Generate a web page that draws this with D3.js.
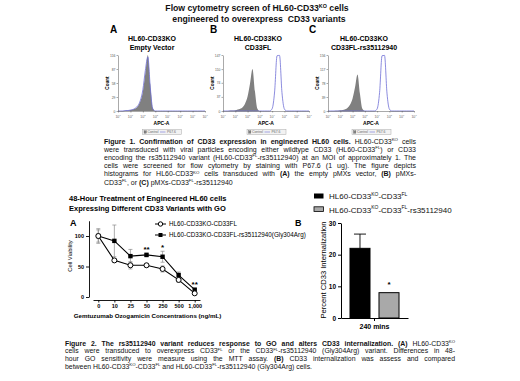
<!DOCTYPE html>
<html>
<head>
<meta charset="utf-8">
<script src="https://cdn.jsdelivr.net/npm/d3@7"></script>
<style>
  body { margin: 0; background: #fff; }
  svg { display: block; font-family: "Liberation Sans", Arial, sans-serif; }
  text { white-space: pre; }
</style>
</head>
<body>
<script>
// ---- data ----
// histogram bins, log10(APC-A)
var binLog = [0, 0.2, 0.4, 0.6, 0.8, 1, 1.2, 1.4, 1.6, 1.8, 2, 2.2, 2.4, 2.6, 2.8, 3, 3.2, 3.4,
              3.6, 3.8, 4, 4.2, 4.4, 4.6, 4.8, 5, 5.2, 5.4, 5.6, 5.8, 6, 6.2, 6.4, 6.6, 6.8, 7];
var ctrlA = [0, 0, 0, 1, 1, 2, 3, 5, 10, 20, 40, 78, 116, 55, 6, 0, 0, 0,
             0, 0, 0, 0, 0, 0, 0, 0, 0, 0, 0, 0, 0, 0, 0, 0, 0, 0];
var p67A  = [0, 0, 0, 1, 1, 2, 3, 6, 11, 22, 44, 84, 112, 48, 4, 0, 0, 0,
             0, 0, 0, 0, 0, 0, 0, 0, 0, 0, 0, 0, 0, 0, 0, 0, 0, 0];
var ctrlB = [0, 0, 0, 1, 1, 2, 4, 6, 10, 20, 38, 72, 110, 52, 6, 0, 0, 0,
             0, 0, 0, 0, 0, 0, 0, 0, 0, 0, 0, 0, 0, 0, 0, 0, 0, 0];
var p67B  = [0, 0, 0, 0, 0, 0, 0, 0, 0, 0, 0, 0, 0, 0, 0, 0, 0, 0,
             0, 0, 6, 50, 145, 146, 48, 5, 0, 0, 0, 0, 0, 0, 0, 0, 0, 0];
var ctrlC = [0, 0, 0, 1, 1, 2, 3, 5, 9, 18, 35, 66, 102, 48, 6, 0, 0, 0,
             0, 0, 0, 0, 0, 0, 0, 0, 0, 0, 0, 0, 0, 0, 0, 0, 0, 0];
var p67C  = [0, 0, 0, 0, 0, 0, 0, 0, 0, 0, 0, 0, 0, 0, 0, 0, 0, 0,
             0, 0, 6, 52, 154, 155, 50, 5, 0, 0, 0, 0, 0, 0, 0, 0, 0, 0];
var countTicksA = [0, 29, 58, 87, 116];
var countTicksB = [0, 37, 74, 110, 147];
var countTicksC = [0, 39, 78, 117, 156];
var apcExponents = [0, 1, 2, 3, 4, 5, 6, 7];
var histLetters = ["A", "B", "C"];
var histTitles = [["HL60-CD33KO", "Empty Vector"], ["HL60-CD33KO", "CD33FL"], ["HL60-CD33KO", "CD33FL-rs35112940"]];

// figure 2A: cell viability after 48 h of GO
var goDoses = ["0", "10", "25", "50", "250", "500", "1,000"];
var viabFL = [100, 60, 52, 52, 46, 28, 6];
var viabFLsd = [10, 3, 6, 3, 5, 4, 2];
var viabRS = [100, 92, 67, 69, 66, 36, 12];
var viabRSsd = [12, 26, 11, 3, 9, 5, 2];
var viabStars = ["", "", "", "**", "*", "", "**"];
var viabTicks = [0, 50, 100];

// figure 2B: CD33 internalization at 240 mins
var internGroup = ["240 mins"];
var internLines = ["FL", "RS"];
var internValues = [22, 8];
var internErr = [4.5, 0];
var internStars = ["", "*"];
var internTicks = [0, 10, 20, 30];

var fig1Caption = [
  "**Figure 1. Confirmation of CD33 expression in engineered HL60 cells.** HL60-CD33^{KO} cells",
  "were transduced with viral particles encoding either wildtype CD33 (HL60-CD33^{FL}) or CD33",
  "encoding the rs35112940 variant (HL60-CD33^{FL}-rs35112940) at an MOI of approximately 1. The",
  "cells were screened for flow cytometry by staining with P67.6 (1 ug). The figure depicts",
  "histograms for HL60-CD33^{KO} cells transduced with **(A)** the empty pMXs vector, **(B)** pMXs-",
  "CD33^{FL}, or **(C)** pMXs-CD33^{FL}-rs35112940"
];
var fig2Caption = [
  "**Figure 2. The rs35112940 variant reduces response to GO and alters CD33 internalization. (A)** HL60-CD33^{KO}",
  "cells were transduced to overexpress CD33^{FL} or the CD33^{FL}-rs35112940 (Gly304Arg) variant. Differences in 48-",
  "hour GO sensitivity were measure using the MTT assay. **(B)** CD33 internalization was assess and compared",
  "between HL60-CD33^{KO}-CD33^{FL} and HL60-CD33^{FL}-rs35112940 (Gly304Arg) cells."
];

// text with **bold** and ^{sup} runs, optionally justified to a width
function rich(g, x, y, str, o) {
  o = o || {};
  var fs = o.size || 7;
  var t = g.append("text").attr("x", x).attr("y", y)
    .attr("font-size", fs)
    .attr("font-weight", o.weight || "normal")
    .attr("text-anchor", o.anchor || "start")
    .attr("fill", o.fill || "#111");
  var parts = str.split(/(\*\*[^*]+\*\*|\^\{[^}]+\})/).filter(function(s) { return s.length; });
  var up = false;
  parts.forEach(function(p) {
    var ts = t.append("tspan");
    if (p.indexOf("^{") === 0) {
      ts.text(p.slice(2, -1)).attr("font-size", fs * 0.62);
      if (!up) ts.attr("dy", -fs * 0.38);
      up = true;
    } else {
      var bold = p.indexOf("**") === 0;
      ts.text(bold ? p.slice(2, -2) : p);
      if (bold) ts.attr("font-weight", "bold");
      if (up) { ts.attr("dy", fs * 0.38); up = false; }
    }
  });
  if (o.width) {
    var n = (t.text().match(/ /g) || []).length;
    var L = t.node().getComputedTextLength();
    if (n) t.style("word-spacing", ((o.width - L) / n) + "px");
  }
  return t;
}

function styleAxis(a, size, weight, color) {
  a.attr("font-family", null).attr("font-size", null);
  a.selectAll("path,line").attr("stroke", color || "#000");
  a.selectAll("text").attr("font-size", size).attr("font-weight", weight || "normal").attr("fill", color || "#000");
}

function histPanel(svg, p) {
  var g = svg.append("g");
  var x = d3.scaleLinear().domain([0, 7]).range([p.x0, p.x1]);
  var y = d3.scaleLinear().domain([0, p.ticks[p.ticks.length - 1]]).range([111, 55]);
  var area = d3.area().x(function(d, i) { return x(binLog[i]); })
    .y0(y(0)).y1(function(d) { return y(d); }).curve(d3.curveMonotoneX);
  var line = d3.line().x(function(d, i) { return x(binLog[i]); })
    .y(function(d) { return y(d); }).curve(d3.curveMonotoneX);
  g.append("path").datum(p.ctrl).attr("d", area).attr("fill", "#808080");
  g.append("path").datum(p.stain).attr("d", line).attr("fill", "none")
    .attr("stroke", "#6f6fd6").attr("stroke-width", 0.8);

  g.append("g").attr("transform", "translate(" + p.x0 + ",0)")
    .call(d3.axisLeft(y).tickValues(p.ticks).tickSize(1.5).tickSizeOuter(0).tickPadding(1))
    .call(function(a) { styleAxis(a, 3.4, "normal", "#555"); a.selectAll("path,line").attr("stroke-width", 0.5); });
  g.append("g").attr("transform", "translate(0,111)")
    .call(d3.axisBottom(x).tickValues(apcExponents).tickSize(1.5).tickSizeOuter(0).tickFormat(""))
    .call(function(a) { styleAxis(a, 3.4, "normal", "#555"); a.selectAll("path,line").attr("stroke-width", 0.5); });
  apcExponents.forEach(function(e) {
    rich(g, x(e), 117.5, "10^{" + e + "}", { size: 3.6, anchor: "middle", fill: "#666" });
  });
  var mid = (p.x0 + p.x1) / 2;
  g.append("text").attr("x", mid).attr("y", 124.5).attr("text-anchor", "middle")
    .attr("font-size", 5).attr("font-weight", "bold").text("APC-A");
  g.append("text").attr("transform", "translate(" + (p.x0 - 9.5) + ",83) rotate(-90)")
    .attr("text-anchor", "middle").attr("font-size", 4.6).attr("font-weight", "bold").text("Count");

  // little FlowJo legend box
  var lx = mid - 19;
  g.append("rect").attr("x", lx).attr("y", 129.5).attr("width", 39).attr("height", 5)
    .attr("fill", "#f2f2f2").attr("stroke", "#aaa").attr("stroke-width", 0.5);
  g.append("rect").attr("x", lx + 1.5).attr("y", 130.8).attr("width", 2.4).attr("height", 2.4)
    .attr("fill", "#808080").attr("stroke", "#555").attr("stroke-width", 0.3);
  g.append("text").attr("x", lx + 5).attr("y", 133.3).attr("font-size", 3.4).attr("fill", "#666").text("Control");
  g.append("line").attr("x1", lx + 17.5).attr("x2", lx + 23).attr("y1", 132).attr("y2", 132)
    .attr("stroke", "#6f6fd6").attr("stroke-width", 0.6);
  g.append("text").attr("x", lx + 24.5).attr("y", 133.3).attr("font-size", 3.4).attr("fill", "#666").text("P67.6");

  g.append("text").attr("x", p.letterX).attr("y", 33).attr("font-size", 10).attr("font-weight", "bold").text(p.letter);
  g.append("text").attr("x", p.titleX).attr("y", 40.5).attr("text-anchor", "middle")
    .attr("font-size", 7).attr("font-weight", "bold").text(p.title[0]);
  g.append("text").attr("x", p.titleX).attr("y", 49.5).attr("text-anchor", "middle")
    .attr("font-size", 7).attr("font-weight", "bold").text(p.title[1]);
}

function draw() {
  var svg = d3.select("body").append("svg").attr("width", 520).attr("height", 381);

  // ---------- Figure 1 ----------
  rich(svg, 257, 11, "Flow cytometry screen of HL60-CD33^{KO} cells", { size: 8.7, weight: "bold", anchor: "middle" });
  rich(svg, 259, 22, "engineered to overexpress  CD33 variants", { size: 8.7, weight: "bold", anchor: "middle" });

  var panels = [
    { x0: 118, x1: 205, ctrl: ctrlA, stain: p67A, ticks: countTicksA, letterX: 110, titleX: 152 },
    { x0: 223, x1: 309, ctrl: ctrlB, stain: p67B, ticks: countTicksB, letterX: 210, titleX: 258 },
    { x0: 328, x1: 414, ctrl: ctrlC, stain: p67C, ticks: countTicksC, letterX: 309, titleX: 364 }
  ];
  panels.forEach(function(p, i) {
    p.letter = histLetters[i];
    p.title = histTitles[i];
    histPanel(svg, p);
  });

  fig1Caption.forEach(function(s, i) {
    var last = i === fig1Caption.length - 1;
    rich(svg, 104, 143.5 + i * 8.2, s, { size: 7, width: last ? null : 312 });
  });

  // ---------- Figure 2 ----------
  svg.append("text").attr("x", 69).attr("y", 201).attr("font-size", 7.5).attr("font-weight", "bold")
    .text("48-Hour Treatment of Engineered HL60 cells");
  svg.append("text").attr("x", 69).attr("y", 210.5).attr("font-size", 7.5).attr("font-weight", "bold")
    .text("Expressing Different CD33 Variants with GO");
  svg.append("text").attr("x", 70).attr("y", 226).attr("font-size", 9).attr("font-weight", "bold").text("A");
  svg.append("text").attr("x", 295).attr("y", 226).attr("font-size", 9).attr("font-weight", "bold").text("B");

  // right legend
  svg.append("rect").attr("x", 314).attr("y", 193.5).attr("width", 9.5).attr("height", 5).attr("fill", "#000");
  rich(svg, 329, 199, "HL60-CD33^{KO}-CD33^{FL}", { size: 8 });
  svg.append("rect").attr("x", 314).attr("y", 206.8).attr("width", 9.5).attr("height", 4.6)
    .attr("fill", "#a9a9a9").attr("stroke", "#000").attr("stroke-width", 0.8);
  rich(svg, 329, 212.5, "HL60-CD33^{KO}-CD33^{FL}-rs35112940", { size: 8 });

  // --- 2A line chart ---
  var xA = d3.scalePoint().domain(goDoses).range([93, 200]).padding(0.33);
  var yA = d3.scaleLinear().domain([0, 125]).range([297, 220.75]);
  var gA = svg.append("g");
  gA.append("g").attr("transform", "translate(89,0)")
    .call(d3.axisLeft(yA).tickValues(viabTicks).tickSize(3).tickSizeOuter(0).tickPadding(2))
    .call(function(a) { styleAxis(a, 5.5, "bold"); a.selectAll("path,line").attr("stroke-width", 0.9); });
  gA.append("g").attr("transform", "translate(0,300)")
    .call(d3.axisBottom(xA).tickSize(2.5).tickSizeOuter(0).tickPadding(2))
    .call(function(a) { styleAxis(a, 5.5, "bold"); a.selectAll("path,line").attr("stroke-width", 0.9); });
  gA.append("text").attr("transform", "translate(71.5,256) rotate(-90)").attr("text-anchor", "middle")
    .attr("font-size", 5.8).text("Cell Viability");
  gA.append("text").attr("x", 147.5).attr("y", 317.5).attr("text-anchor", "middle")
    .attr("font-size", 6.2).attr("font-weight", "bold").text("Gemtuzumab Ozogamicin Concentrations (ng/mL)");

  var series = [
    { v: viabRS, sd: viabRSsd, marker: "square" },
    { v: viabFL, sd: viabFLsd, marker: "circle" }
  ];
  series.forEach(function(s) {
    s.v.forEach(function(v, i) {
      var cx = xA(goDoses[i]);
      gA.append("line").attr("x1", cx).attr("x2", cx).attr("y1", yA(v - s.sd[i])).attr("y2", yA(v + s.sd[i]))
        .attr("stroke", "#8a8a8a").attr("stroke-width", 0.7);
      [v - s.sd[i], v + s.sd[i]].forEach(function(e) {
        gA.append("line").attr("x1", cx - 2).attr("x2", cx + 2).attr("y1", yA(e)).attr("y2", yA(e))
          .attr("stroke", "#8a8a8a").attr("stroke-width", 0.7);
      });
    });
  });
  var lineA = d3.line().x(function(d, i) { return xA(goDoses[i]); }).y(function(d) { return yA(d); });
  series.forEach(function(s) {
    gA.append("path").datum(s.v).attr("d", lineA).attr("fill", "none").attr("stroke", "#000").attr("stroke-width", 1.1);
  });
  gA.selectAll("rect.rs").data(viabRS).enter().append("rect").attr("class", "rs")
    .attr("x", function(d, i) { return xA(goDoses[i]) - 2.2; })
    .attr("y", function(d) { return yA(d) - 2.2; })
    .attr("width", 4.4).attr("height", 4.4).attr("fill", "#000");
  gA.selectAll("circle.fl").data(viabFL).enter().append("circle").attr("class", "fl")
    .attr("cx", function(d, i) { return xA(goDoses[i]); })
    .attr("cy", function(d) { return yA(d); })
    .attr("r", 2.5).attr("fill", "#fff").attr("stroke", "#000").attr("stroke-width", 1);
  viabStars.forEach(function(st, i) {
    if (!st) return;
    var top = Math.max(viabRS[i] + viabRSsd[i], viabFL[i] + viabFLsd[i]);
    gA.append("text").attr("x", xA(goDoses[i])).attr("y", yA(top) - 1.5).attr("text-anchor", "middle")
      .attr("font-size", 8).attr("font-weight", "bold").text(st);
  });

  // legend of 2A
  gA.append("line").attr("x1", 155).attr("x2", 166).attr("y1", 224).attr("y2", 224).attr("stroke", "#000").attr("stroke-width", 1);
  gA.append("circle").attr("cx", 160.5).attr("cy", 224).attr("r", 2.2).attr("fill", "#fff").attr("stroke", "#000").attr("stroke-width", 1);
  gA.append("text").attr("x", 169).attr("y", 226.2).attr("font-size", 6.3).text("HL60-CD33KO-CD33FL");
  gA.append("line").attr("x1", 155).attr("x2", 166).attr("y1", 235).attr("y2", 235).attr("stroke", "#000").attr("stroke-width", 1);
  gA.append("rect").attr("x", 158.5).attr("y", 233).attr("width", 4).attr("height", 4).attr("fill", "#000");
  gA.append("text").attr("x", 169).attr("y", 237.2).attr("font-size", 6.3).text("HL60-CD33KO-CD33FL-rs35112940(Gly304Arg)");

  // --- 2B bar chart ---
  var gB = svg.append("g");
  var x0B = d3.scaleBand().domain(internGroup).range([341, 408]);
  var x1B = d3.scaleBand().domain(internLines).range([341, 408]).paddingInner(0.31).paddingOuter(0.31);
  var yB = d3.scaleLinear().domain([0, 30]).range([318, 223]);
  internValues.forEach(function(v, i) {
    var bx = x1B(internLines[i]), bw = x1B.bandwidth();
    if (internErr[i]) {
      var cx = bx + bw / 2;
      gB.append("line").attr("x1", cx).attr("x2", cx).attr("y1", yB(v)).attr("y2", yB(v + internErr[i]))
        .attr("stroke", "#000").attr("stroke-width", 0.9);
      gB.append("line").attr("x1", cx - 6).attr("x2", cx + 6).attr("y1", yB(v + internErr[i])).attr("y2", yB(v + internErr[i]))
        .attr("stroke", "#000").attr("stroke-width", 0.9);
    }
    gB.append("rect").attr("x", bx).attr("y", yB(v)).attr("width", bw).attr("height", yB(0) - yB(v))
      .attr("fill", i === 0 ? "#000" : "#a9a9a9").attr("stroke", "#000").attr("stroke-width", 1);
    if (internStars[i]) {
      gB.append("text").attr("x", bx + bw / 2).attr("y", yB(v + internErr[i]) - 5.5).attr("text-anchor", "middle")
        .attr("font-size", 8).attr("font-weight", "bold").text(internStars[i]);
    }
  });
  gB.append("g").attr("transform", "translate(341,0)")
    .call(d3.axisLeft(yB).tickValues(internTicks).tickSize(3).tickSizeOuter(0).tickPadding(2))
    .call(function(a) { styleAxis(a, 6.5, "bold"); a.selectAll("path,line").attr("stroke-width", 1); });
  gB.append("g").attr("transform", "translate(0,318)")
    .call(d3.axisBottom(x0B).tickSize(3).tickSizeOuter(0).tickPadding(3))
    .call(function(a) { styleAxis(a, 7, "bold"); a.selectAll("path,line").attr("stroke-width", 1); });
  gB.append("text").attr("transform", "translate(325.5,270) rotate(-90)").attr("text-anchor", "middle")
    .attr("font-size", 7.6).text("Percent CD33 Internalization");

  fig2Caption.forEach(function(s, i) {
    var last = i === fig2Caption.length - 1;
    rich(svg, 65, 345.5 + i * 7.7, s, { size: 6.9, width: last ? null : 390 });
  });
}

window.onload = draw;
</script>
</body>
</html>
